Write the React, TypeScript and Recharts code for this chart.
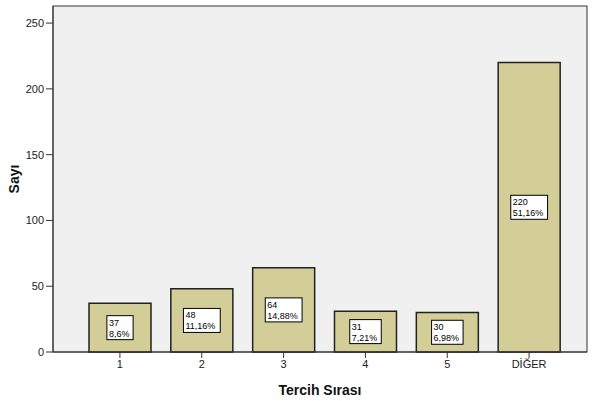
import { BarChart, Bar, XAxis, YAxis, LabelList } from 'recharts';

const categories = ['1', '2', '3', '4', '5', 'DİĞER'];
const counts = [37, 48, 64, 31, 30, 220];
const percents = [8.6, 11.16, 14.88, 7.21, 6.98, 51.16];
const yTicks = [0, 50, 100, 150, 200, 250];

const data = categories.map((name, i) => ({
  name,
  count: counts[i],
  pct: percents[i],
}));

const FONT = 'Arial, "Liberation Sans", sans-serif';

// white box with count and percent, centered in the bar
const BoxLabel = (props: any) => {
  const { x, y, width, height, index } = props;
  const line1 = String(counts[index]);
  const line2 = String(percents[index]).replace('.', ',') + '%';
  const len = Math.max(line1.length, line2.length);
  const w = len * 5.3 + 5;
  const h = 24;
  const cx = x + width / 2;
  const cy = y + height / 2;
  const left = cx - w / 2;
  return (
    <g>
      <rect x={left} y={cy - h / 2} width={w} height={h} fill="#fff" stroke="#000" strokeWidth={1} />
      <text x={left + 2} y={cy - 2} fontSize={9} fontFamily={FONT} fill="#000">
        {line1}
      </text>
      <text x={left + 2} y={cy + 9} fontSize={9} fontFamily={FONT} fill="#000">
        {line2}
      </text>
    </g>
  );
};

export default function App() {
  return (
    <div style={{ position: 'absolute', left: 0, top: 0, background: '#fff' }}>
      <BarChart
        width={607}
        height={401}
        data={data}
        margin={{ top: 6, right: 20, bottom: 0, left: 0 }}
      >
        {/* plot background with frame */}
        <rect x={53} y={6} width={534} height={346} fill="#F0F0F0" stroke="#333" strokeWidth={1} />
        <text
          x={14}
          y={179}
          transform="rotate(-90 14 179)"
          textAnchor="middle"
          dominantBaseline="central"
          fontSize={14}
          fontWeight="bold"
          fontFamily={FONT}
          fill="#111"
        >
          Sayı
        </text>
        <XAxis
          dataKey="name"
          height={49}
          padding={{ left: 26, right: 17 }}
          tickLine={{ stroke: '#333' }}
          tickSize={6}
          axisLine={{ stroke: '#333' }}
          tick={{ fontSize: 11, fontFamily: FONT, fill: '#222' }}
          label={{
            value: 'Tercih Sırası',
            position: 'insideBottom',
            offset: 6,
            fontSize: 14,
            fontWeight: 'bold',
            fontFamily: FONT,
            fill: '#111',
          }}
        />
        <YAxis
          width={53}
          domain={[0, 263]}
          ticks={yTicks}
          interval={0}
          tickLine={{ stroke: '#333' }}
          tickSize={7}
          axisLine={{ stroke: '#333' }}
          tick={{ fontSize: 11, fontFamily: FONT, fill: '#222' }}
        />
        <Bar dataKey="count" fill="#D3CE97" stroke="#222" strokeWidth={1.5} barSize={62} isAnimationActive={false}>
          <LabelList dataKey="count" content={BoxLabel} />
        </Bar>
      </BarChart>
    </div>
  );
}
